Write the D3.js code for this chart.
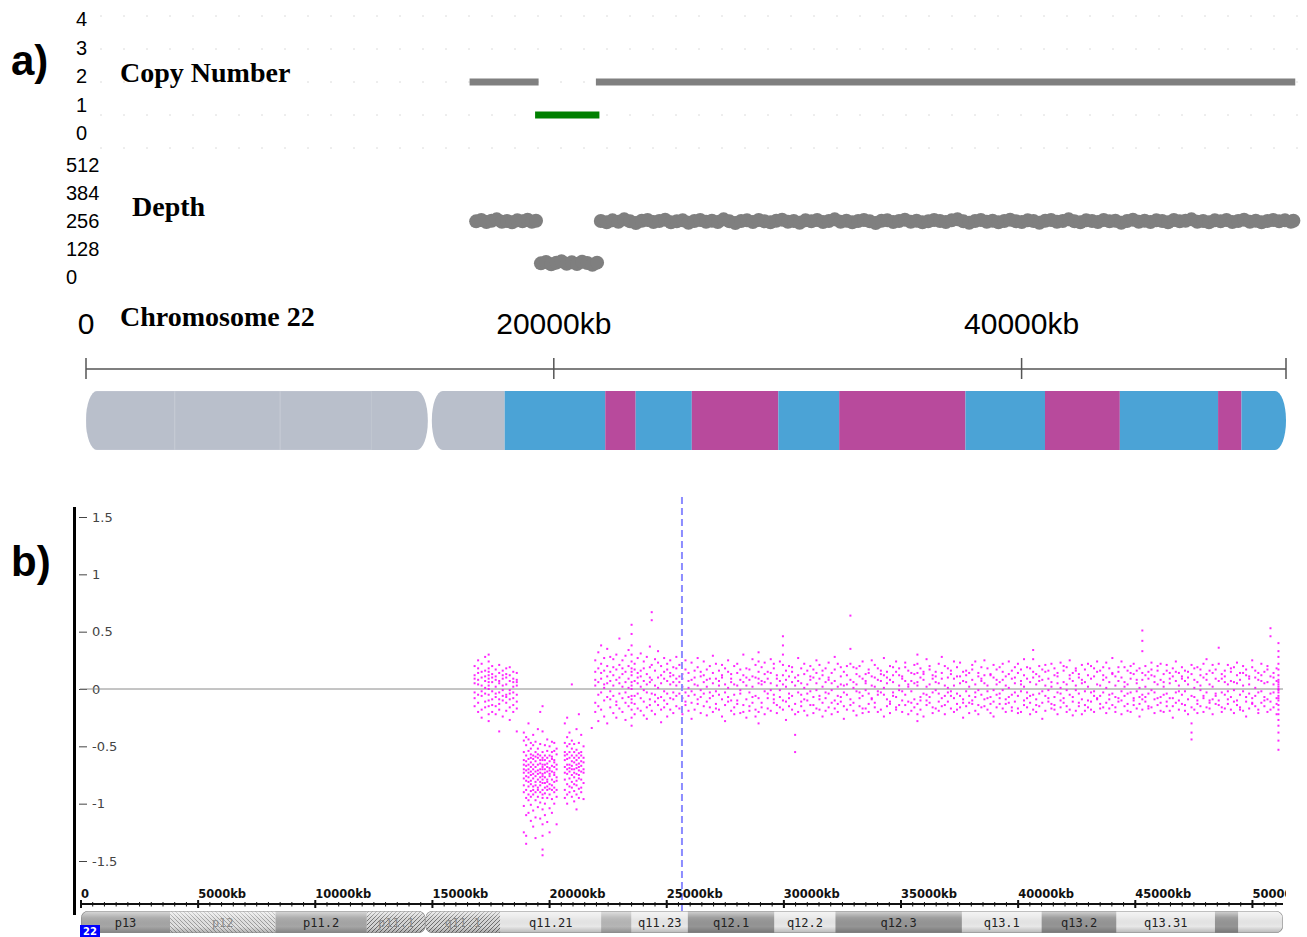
<!DOCTYPE html>
<html>
<head>
<meta charset="utf-8">
<script src="https://cdn.jsdelivr.net/npm/d3@7"></script>
<style>
  body { margin: 0; background: #fff; }
  svg { display: block; }
</style>
</head>
<body>
<script>
// ---- data ----
const chromLengthKb = 51304;
const copyNumberTicks = ["4", "3", "2", "1", "0"];
const copyNumberLevels = [0, 1, 2, 3, 4];
const depthTicks = ["512", "384", "256", "128", "0"];
const chromAxisTicks = [0, 20000, 40000];
const ratioTicks = [-1.5, -1, -0.5, 0, 0.5, 1, 1.5];
const cursorKb = 25650;

// copy number segments (kb)
const cnSegments = [
  { start: 16400, end: 19350, cn: 2 },
  { start: 19200, end: 21950, cn: 1 },
  { start: 21800, end: 51700, cn: 2 }
];

// read depth, [kb, depth]
const depthPoints = [
  [16680,249],[16900,253],[17120,247],[17340,251],[17560,255],[17780,248],[18000,250],[18220,246],[18440,252],[18660,249],[18880,254],[19060,248],[19240,251],
  [19450,124],[19670,128],[19890,121],[20110,126],[20330,130],[20550,123],[20770,127],[20990,122],[21210,129],[21430,125],[21650,120],[21850,126],
  [22010,250],[22260,246],[22510,252],[22760,248],[23010,255],[23260,249],[23510,244],[23760,251],[24010,253],[24260,247],
  [24510,250],[24760,254],[25010,246],[25260,249],[25510,252],[25760,245],[26010,250],[26260,253],[26510,248],[26760,251],
  [27010,247],[27260,255],[27510,249],[27760,244],[28010,250],[28260,252],[28510,247],[28760,253],[29010,249],[29260,246],
  [29510,251],[29760,254],[30010,248],[30260,250],[30510,245],[30760,252],[31010,249],[31260,253],[31510,247],[31760,250],
  [32010,255],[32260,248],[32510,251],[32760,246],[33010,250],[33260,253],[33510,249],[33760,244],[34010,251],[34260,252],
  [34510,247],[34760,250],[35010,254],[35260,248],[35510,251],[35760,246],[36010,249],[36260,253],[36510,250],[36760,247],
  [37010,252],[37260,255],[37510,249],[37760,245],[38010,250],[38260,253],[38510,248],[38760,251],[39010,246],[39260,250],
  [39510,254],[39760,249],[40010,247],[40260,252],[40510,250],[40760,245],[41010,251],[41260,253],[41510,248],[41760,250],
  [42010,255],[42260,249],[42510,246],[42760,252],[43010,250],[43260,247],[43510,253],[43760,249],[44010,251],[44260,245],
  [44510,250],[44760,254],[45010,248],[45260,251],[45510,247],[45760,252],[46010,250],[46260,246],[46510,253],[46760,249],
  [47010,251],[47260,255],[47510,248],[47760,250],[48010,246],[48260,252],[48510,249],[48760,253],[49010,247],[49260,250],
  [49510,254],[49760,248],[50010,251],[50260,246],[50510,250],[50760,253],[51010,249],[51260,252],[51510,248],[51620,251]
];

// cytobands of chromosome 22 (kb)
const bandNames  = ["p13","p12","p11.2","p11.1","q11.1","q11.21","q11.22","q11.23","q12.1","q12.2","q12.3","q13.1","q13.2","q13.31","q13.32","q13.33"];
const bandStarts = [0,3800,8300,12200,14700,17900,22200,23500,25900,29600,32200,37600,41000,44200,48400,49400];
const bandEnds   = [3800,8300,12200,14700,17900,22200,23500,25900,29600,32200,37600,41000,44200,48400,49400,51304];
const bandStains = ["gvar","stalk","gvar","acen","acen","gneg","gpos25","gneg","gpos50","gneg","gpos50","gneg","gpos50","gneg","gpos50","gneg"];
const centromereKb = 14700;

// log2 ratio: [kb, values x100 ...]
const ratioRows = [
  [16800,5,-8,12,-15,20,-3,9],[16950,-12,18,4,-20,8,-5,14,25],[17100,10,-6,-18,22,3,-25,15,-2],
  [17250,-4,16,-11,7,28,-16,1,11],[17400,30,24,18,12,6,0,-5,-10,-15,-22,-28,9,15,3],
  [17550,-9,13,-2,20,-14,6,-20,10],[17700,8,-15,17,-7,2,-22,11,-4],[17850,-13,5,21,-9,14,-3,-18,7,-37],
  [18000,3,-10,9,-24,16,-6,12,-1],[18150,-7,18,-12,4,-19,10,-5,13],[18300,12,-4,-16,7,-1,19,-9,-27],
  [18450,-3,9,-14,15,-8,2,-20,6],[18600,6,-11,3,-5,14,-17,8,-37],
  [18900,-45,-62,-78,-90,-55,-70,-102,-38,-84,-66,-125,-73],
  [19000,-58,-71,-49,-95,-80,-63,-110,-42,-76,-88,-67,-128,-135],
  [19100,-30,-66,-81,-54,-73,-97,-61,-85,-108,-70,-44,-92,-77],
  [19200,-68,-52,-89,-75,-60,-101,-83,-47,-115,-72,-64,-94,-57,-80],
  [19300,-74,-58,-92,-66,-85,-49,-78,-106,-61,-70,-88,-120,-40],
  [19400,-63,-81,-55,-97,-72,-68,-90,-46,-76,-112,-59,-84,-130],
  [19500,-71,-60,-86,-52,-94,-79,-66,-103,-57,-74,-88,-35],
  [19600,-20,-48,-65,-77,-90,-58,-84,-70,-99,-62,-113,-81,-73],
  [19700,-15,-37,-55,-62,-70,-76,-82,-88,-95,-68,-74,-79,-105,-118,-128,-60,-66,-92,-140,-145],
  [19800,-66,-82,-58,-91,-73,-49,-86,-100,-62,-77,-110,-70],
  [19900,-54,-79,-68,-95,-60,-85,-72,-44,-88,-116,-65,-81],
  [20000,-69,-58,-83,-76,-92,-50,-71,-104,-63,-87,-74,-125],
  [20100,-46,-72,-61,-88,-55,-79,-96,-67,-84,-108,-59],
  [20200,-62,-75,-54,-90,-68,-81,-47,-100,-73,-86,-64],
  [20300,-57,-80,-70,-66,-94,-52,-77,-88,-118],
  [20650,-30,-55,-68,-79,-47,-62,-88,-73,-95,-58],
  [20750,-25,-50,-66,-74,-83,-57,-92,-61,-70,-42,-100],
  [20850,-60,-72,-48,-85,-66,-55,-78,-90,-69,-38],
  [20950,4,-52,-67,-75,-58,-81,-63,-94,-70,-45,-86],
  [21050,-64,-77,-55,-89,-70,-60,-83,-48,-73,-98],
  [21150,-35,-58,-69,-62,-80,-74,-92,-53,-66,-84,-105],
  [21250,-22,-47,-60,-71,-65,-78,-56,-87,-68,-95,-75],
  [21350,-40,-58,-72,-63,-86,-55,-79,-67,-90],
  [21450,-50,-64,-73,-82,-60,-70,-96],
  [21800,-34],
  [21950,8,-12,25,3,-20,15],[22080,-5,18,32,-15,6,-28],[22200,14,-3,22,-18,9,38],[22330,-10,27,4,-24,16,1],
  [22460,20,-7,11,-30,35,5],[22590,-2,15,-16,28,7,-9],[22720,12,-21,3,19,-6,26],[22850,-14,8,30,-11,17,-25],
  [22980,5,-17,21,10,-4,44],[23110,25,-8,13,-20,2,18],[23240,-12,6,29,-3,15,-27],[23370,9,-15,20,-7,34,1],
  [23500,48,38,30,24,18,12,6,0,-6,-12,-18,-25,-32,15,3,-9,56],
  [23630,-6,22,-13,7,17,-22],[23760,14,-4,27,-17,5,10],[23890,-19,11,2,31,-8,16],[24020,7,-23,18,-1,24,-11],
  [24150,-3,13,-16,28,4,-26],[24280,19,-9,6,37,-14,10],[24360,67,60,-4,21,-19,8],[24500,-11,16,3,-22,26,-5],
  [24630,10,-14,23,1,-8,33],[24760,-7,20,-18,12,5,-29],[24890,15,-2,9,-16,27,-10],[25020,-13,7,22,-4,17,-24],
  [25150,4,-18,14,-8,25,11],[25280,-9,12,-21,6,19,-3],[25410,18,-6,9,-15,3,28],
  [25540,-4,11,-17,6,21],[25670,13,-8,2,-22,9],[25800,-11,17,-3,25,-14],[25930,7,-19,14,-6,1],
  [26060,-2,23,-12,8,-26],[26190,16,-5,10,-18,4],[26320,-9,3,19,-13,27],[26450,11,-21,-1,15,-7],
  [26580,-15,6,24,-4,12],[26710,2,-11,17,-23,8],[26840,20,-3,-16,9,-8],[26970,-6,14,5,-20,29],
  [27100,9,-13,22,-2,-17],[27230,-18,7,-5,16,3],[27360,12,-24,10,-9,21],[27490,-3,18,-14,4,-28],
  [27620,15,-7,1,25,-11],[27750,-10,9,-19,13,6],[27880,4,-16,20,-5,-22],[28010,-13,22,3,-10,14],
  [28140,8,-4,-21,17,-1],[28270,-20,12,6,-14,30],[28400,3,-9,18,-25,10],[28530,17,-15,-3,8,-19],
  [28660,-7,26,11,-12,2],[28790,10,-18,-6,21,-24],[28920,32,24,15,-8,-20,5,-30,9],[29050,-12,4,19,-16,7],
  [29180,6,-22,13,-2,23],[29310,-17,9,-8,15,-4],[29440,14,-1,-19,5,26],[29570,-5,18,-12,22,-9],
  [29700,9,-14,3,-21,12],[29830,-16,7,24,-7,-1],[29960,46,38,30,21,12,-10,-18,4],[30090,2,-11,16,-27,8],
  [30220,-8,20,-4,11,-15],[30350,15,-6,-18,6,19],[30480,-55,-40,-22,10,3,-13],[30610,7,-20,12,-3,27],
  [30740,-11,5,-15,18,-5],[30870,13,-9,22,-19,1],[31000,-4,16,-10,4,-23],[31130,20,-2,8,-14,11],
  [31260,-14,10,-21,17,-7],[31390,5,-17,14,-1,25],[31520,-9,21,-6,9,-18],[31650,12,-12,2,-24,16],
  [31780,-19,6,18,-8,-3],[31910,8,-4,-16,23,10],[32040,-1,14,-22,5,-12],[32170,17,-10,7,-17,28],
  [32300,-6,22,-13,2,-20],[32430,11,-7,19,-11,4],[32560,-15,3,-3,15,-26],[32690,4,-18,12,-5,20],
  [32840,64,35,-9,8,-14,22],[32970,-12,19,-19,6,1],[33100,18,-2,4,-23,13],[33230,-3,11,-15,20,-8],
  [33360,9,-21,24,-6,-17],[33490,-17,7,-1,13,5],[33620,14,-13,17,-20,-4],[33750,-8,25,-9,3,11],
  [33880,2,-16,10,-12,21],[34010,-20,8,-5,18,-2],[34140,16,-3,13,-18,7],[34270,-5,12,-24,1,27],
  [34400,10,-9,5,15,-15],[34530,-13,20,-11,8,-21],[34660,6,-6,19,-3,12],[34790,-18,15,-16,24,-7],
  [34920,12,-1,3,-14,18],[35050,-2,9,-20,11,-10],[35180,19,-14,7,-5,23],[35310,-11,4,16,-22,2],
  [35440,7,-19,-2,14,-12],[35570,-16,13,21,-9,5],[35700,30,22,14,-13,-22,-28,6,3],[35830,-7,18,-10,10,-18],
  [35960,13,-4,8,-24,15],[36090,-10,26,-14,2,-5],[36220,4,-12,17,-7,20],[36350,-21,9,-3,12,-16],
  [36480,15,-17,11,-1,6],[36610,-4,5,-19,22,-11],[36740,9,-8,14,-15,28],[36870,-14,20,-6,3,-22],
  [37000,18,-3,1,-11,10],[37130,-6,13,-17,16,-2],[37260,3,-20,9,-8,24],[37390,-18,11,-4,19,-13],
  [37520,11,-6,23,-16,5],[37650,-9,15,-12,7,-25],[37780,6,-15,16,-2,12],[37910,-12,2,-21,14,-6],
  [38040,21,-10,8,-13,17],[38170,-3,24,-7,4,-19],[38300,14,-14,11,-22,-1],[38430,-16,7,19,-5,9],
  [38560,5,-9,-15,12,25],[38690,-8,18,-2,-18,3],[38820,12,-21,13,-7,-13],[38950,-1,10,-11,21,-24],
  [39080,17,-5,4,-16,8],[39210,-13,19,-8,6,-4],[39340,8,-17,15,-1,22],[39470,-20,3,-13,11,-9],
  [39600,13,-7,24,-12,1],[39730,-5,16,-19,9,-16],[39860,10,-11,5,-3,19],[39990,-17,22,-6,14,-21],
  [40120,4,-2,17,-20,7],[40250,-10,12,-14,2,26],[40380,19,-16,9,-8,-3],[40510,-6,6,-22,18,-12],
  [40640,34,26,-18,10,-5,15],[40770,-14,13,-9,4,-20],[40900,7,-4,20,-15,11],[41030,-2,17,-12,8,-26],
  [41160,15,-19,3,-6,21],[41290,-11,9,-1,16,-8],[41420,6,-13,22,-17,2],[41550,-18,18,-7,12,-14],
  [41680,11,-3,14,-22,5],[41810,-4,23,-16,1,-10],[41940,20,-8,6,-12,16],[42070,-15,4,-20,19,-1],
  [42200,9,-18,12,-5,25],[42330,-7,14,-11,7,-23],[42460,16,-1,18,-19,3],[42590,-12,10,-4,13,-15],
  [42720,5,-22,21,-9,8],[42850,-19,6,-14,17,-2],[42980,12,-10,2,-16,22],[43110,-3,20,-18,9,-11],
  [43240,18,-6,11,-2,-20],[43370,-9,15,-8,24,4],[43500,3,-17,16,-13,-6],[43630,-16,8,-3,19,12],
  [43760,10,-12,23,-21,1],[43890,-5,18,-9,6,-17],[44020,14,-4,13,-14,27],[44150,-20,11,-16,3,-7],
  [44280,7,-8,19,-11,15],[44410,-10,24,-2,10,-22],[44540,19,-15,6,-6,2],[44670,-4,4,-19,16,-13],
  [44800,9,-20,14,-3,20],[44930,-14,13,-10,22,-8],[45060,16,-2,8,-17,5],[45180,-7,18,-13,1,-24],
  [45300,51,42,33,-9,14,-5,-18,8],[45430,2,-11,20,-7,12],[45560,-17,9,-4,15,-15],[45690,12,-16,17,-1,23],
  [45820,-3,6,-21,11,-9],[45950,20,-8,4,-14,16],[46080,-12,22,-7,8,-19],[46210,6,-5,13,-20,2],
  [46340,-15,16,-11,21,-4],[46470,9,-19,5,-8,14],[46600,-8,11,-15,18,-25],[46730,15,-3,24,-12,7],
  [46860,-2,14,-18,3,-10],[46990,11,-13,9,-5,19],[47120,-19,7,-2,16,-14],[47250,4,-22,15,-9,10],
  [47400,-44,-38,-30,13,-6,21,-16],[47520,8,-7,18,-18,1],[47650,-13,19,-10,6,-21],[47780,17,-1,3,-15,12],
  [47910,-6,10,-20,22,-8],[48040,13,-16,8,-3,26],[48170,-10,4,-12,16,-17],[48300,21,-9,14,-22,2],
  [48430,-4,17,-6,9,-13],[48560,7,-14,22,-10,36],[48690,-16,9,-3,13,-20],[48820,11,-5,16,-17,6],
  [48950,-2,21,-13,4,-9],[49080,18,-18,7,-7,15],[49210,-11,6,-21,19,-1],[49340,5,-10,12,-14,23],
  [49470,-18,14,-5,8,-16],[49600,14,-2,20,-19,3],[49730,-7,12,-11,17,-24],[49860,9,-17,4,-4,11],
  [49990,-13,19,-8,25,-12],[50120,16,-6,10,-15,1],[50250,-3,8,-18,14,-21],[50380,12,-12,22,-2,7],
  [50510,-15,15,-7,5,-10],[50640,6,-20,17,-9,20],[50770,53,46,-11,11,-4,-18],[50900,10,-3,14,-16,4],
  [51030,-8,18,-13,7,-22],
  [51110,40,33,28,22,17,12,8,4,0,-3,-6,-10,-14,-18,-22,-27,-32,-38,-45,-53,2,-1,6,-8]
];

// ---- svg ----
const W = 1307, H = 937;
const svg = d3.select('body').append('svg')
  .attr('width', W)
  .attr('height', H)
  .style('background', '#fff');

const defs = svg.append('defs');

// ================= panel a =================
const xA = d3.scaleLinear().domain([0, chromLengthKb]).range([86, 1286]);
const cnY = d3.scaleLinear().domain([0, 4]).range([148, 16]);
const depthY = d3.scaleLinear().domain([0, 512]).range([305, 133]);
const cnLabelY = d3.scalePoint().domain(copyNumberTicks).range([26, 140]);
const depthLabelY = d3.scalePoint().domain(depthTicks).range([172, 284]);

svg.append('text')
  .attr('x', 11).attr('y', 75)
  .style('font', 'bold 42px "Liberation Sans", Arial, sans-serif')
  .text('a)');

// faint dotted guide lines
svg.append('g').selectAll('line')
  .data(copyNumberLevels)
  .enter().append('line')
  .attr('x1', 100).attr('x2', 1300)
  .attr('y1', d => cnY(d)).attr('y2', d => cnY(d))
  .attr('stroke', '#dcdcdc')
  .attr('stroke-width', 1)
  .attr('stroke-dasharray', '2,21');

svg.append('g').selectAll('text')
  .data(copyNumberTicks)
  .enter().append('text')
  .attr('x', 76).attr('y', d => cnLabelY(d))
  .style('font', '20px "Liberation Sans", Arial, sans-serif')
  .text(d => d);

svg.append('g').selectAll('text')
  .data(depthTicks)
  .enter().append('text')
  .attr('x', 66).attr('y', d => depthLabelY(d))
  .style('font', '20px "Liberation Sans", Arial, sans-serif')
  .text(d => d);

const serifBold = 'bold 28px "Liberation Serif", "Times New Roman", serif';
svg.append('text').attr('x', 120).attr('y', 82).style('font', serifBold).text('Copy Number');
svg.append('text').attr('x', 132).attr('y', 216).style('font', serifBold).text('Depth');
svg.append('text').attr('x', 120).attr('y', 326).style('font', serifBold).text('Chromosome 22');

// copy number segments
svg.append('g').selectAll('line')
  .data(cnSegments)
  .enter().append('line')
  .attr('x1', d => xA(d.start)).attr('x2', d => xA(d.end))
  .attr('y1', d => cnY(d.cn)).attr('y2', d => cnY(d.cn))
  .attr('stroke', d => d.cn === 1 ? '#008000' : '#808080')
  .attr('stroke-width', 7);

// depth points
svg.append('g').selectAll('circle')
  .data(depthPoints)
  .enter().append('circle')
  .attr('cx', d => xA(d[0]))
  .attr('cy', d => depthY(d[1]))
  .attr('r', 7)
  .attr('fill', '#7f7f7f');

// chromosome axis
const axisA = svg.append('g');
axisA.append('line')
  .attr('x1', xA(0)).attr('x2', xA(chromLengthKb))
  .attr('y1', 369).attr('y2', 369)
  .attr('stroke', '#555').attr('stroke-width', 1.5);
axisA.selectAll('line.tk')
  .data(chromAxisTicks.concat([chromLengthKb]))
  .enter().append('line')
  .attr('class', 'tk')
  .attr('x1', d => xA(d)).attr('x2', d => xA(d))
  .attr('y1', 358).attr('y2', 379)
  .attr('stroke', '#555').attr('stroke-width', 1.5);
axisA.selectAll('text')
  .data(chromAxisTicks)
  .enter().append('text')
  .attr('x', d => xA(d))
  .attr('y', 334)
  .attr('text-anchor', 'middle')
  .style('font', '30px "Liberation Sans", Arial, sans-serif')
  .text(d => d === 0 ? '0' : d + 'kb');

// ideogram a
const bands = bandNames.map((name, i) => ({
  name, start: bandStarts[i], end: bandEnds[i], stain: bandStains[i]
}));
const colorA = s => s === 'gneg' ? '#4ba3d6' : (s.startsWith('gpos') ? '#b84a9c' : '#b9bfcb');
const ideoA = { y: 391, h: 59 };

function armClip(id, x0, x1, y, h, rx, ry) {
  defs.append('clipPath').attr('id', id)
    .append('rect')
    .attr('x', x0).attr('y', y)
    .attr('width', x1 - x0).attr('height', h)
    .attr('rx', rx).attr('ry', ry);
}
armClip('armAp', xA(0), xA(centromereKb) - 2, ideoA.y, ideoA.h, 11, 29);
armClip('armAq', xA(centromereKb) + 2, xA(chromLengthKb), ideoA.y, ideoA.h, 11, 29);

['armAp', 'armAq'].forEach((id, k) => {
  const arm = bands.filter(b => k === 0 ? b.end <= centromereKb : b.start >= centromereKb);
  svg.append('g').attr('clip-path', `url(#${id})`)
    .selectAll('rect')
    .data(arm)
    .enter().append('rect')
    .attr('x', d => xA(d.start))
    .attr('width', d => xA(d.end) - xA(d.start))
    .attr('y', ideoA.y).attr('height', ideoA.h)
    .attr('fill', d => colorA(d.stain))
    .attr('stroke', d => d.stain === 'gvar' || d.stain === 'stalk' ? '#c6cbd5' : 'none')
    .attr('stroke-width', 0.8);
});

// ================= panel b =================
const xB = d3.scaleLinear().domain([0, chromLengthKb]).range([81, 1283]);
const yB = d3.scaleLinear().domain([-1.5, 1.5]).range([861, 517]);

svg.append('text')
  .attr('x', 11).attr('y', 576)
  .style('font', 'bold 42px "Liberation Sans", Arial, sans-serif')
  .text('b)');

// y axis
svg.append('line')
  .attr('x1', 74.5).attr('x2', 74.5)
  .attr('y1', 507).attr('y2', 915)
  .attr('stroke', '#000').attr('stroke-width', 3);

const yAxis = svg.append('g')
  .attr('transform', 'translate(79,0)')
  .call(d3.axisRight(yB).tickValues(ratioTicks).tickSize(8).tickPadding(5).tickFormat(d => String(d)));
yAxis.select('.domain').remove();
yAxis.selectAll('.tick line').attr('stroke', '#444');
yAxis.selectAll('.tick text')
  .style('font', '13px "DejaVu Sans", Verdana, sans-serif')
  .attr('fill', '#444');

// zero line
svg.append('line')
  .attr('x1', 80).attr('x2', xB(chromLengthKb))
  .attr('y1', yB(0)).attr('y2', yB(0))
  .attr('stroke', '#8a8a8a').attr('stroke-width', 1);

// scatter
const ratioPoints = ratioRows.flatMap(r => r.slice(1).map(v => ({ kb: r[0], ratio: v / 100 })));
svg.append('g').selectAll('rect')
  .data(ratioPoints)
  .enter().append('rect')
  .attr('x', d => xB(d.kb) - 1)
  .attr('y', d => yB(d.ratio) - 1)
  .attr('width', 2).attr('height', 2)
  .attr('fill', '#ff00ff')
  .attr('opacity', 0.85);

// cursor line
svg.append('line')
  .attr('x1', xB(cursorKb)).attr('x2', xB(cursorKb))
  .attr('y1', 497).attr('y2', 937)
  .attr('stroke', '#8c8cff').attr('stroke-width', 2)
  .attr('stroke-dasharray', '7,4');

// x axis
defs.append('clipPath').attr('id', 'xclip')
  .append('rect').attr('x', 0).attr('y', 870).attr('width', 1286).attr('height', 40);

const majorTicks = d3.range(0, chromLengthKb, 5000);
const minorTicks = d3.range(0, chromLengthKb, 500);
const xAxisG = svg.append('g').attr('clip-path', 'url(#xclip)');
xAxisG.append('line')
  .attr('x1', xB(0)).attr('x2', xB(chromLengthKb))
  .attr('y1', 904).attr('y2', 904)
  .attr('stroke', '#111').attr('stroke-width', 2);
xAxisG.selectAll('line.minor')
  .data(minorTicks)
  .enter().append('line')
  .attr('class', 'minor')
  .attr('x1', d => xB(d)).attr('x2', d => xB(d))
  .attr('y1', 902).attr('y2', 906.5)
  .attr('stroke', '#111').attr('stroke-width', 1);
xAxisG.selectAll('line.major')
  .data(majorTicks)
  .enter().append('line')
  .attr('class', 'major')
  .attr('x1', d => xB(d)).attr('x2', d => xB(d))
  .attr('y1', 900).attr('y2', 908)
  .attr('stroke', '#111').attr('stroke-width', 2);
xAxisG.selectAll('text')
  .data(majorTicks)
  .enter().append('text')
  .attr('x', d => xB(d))
  .attr('y', 898)
  .style('font', 'bold 11.5px "DejaVu Sans", Verdana, sans-serif')
  .attr('fill', '#111')
  .text(d => d === 0 ? '0' : d + 'kb');

// ideogram b
const ideoB = { y: 911, h: 22 };
const hatch = (id, bg, fg, dir) => {
  const p = defs.append('pattern').attr('id', id)
    .attr('patternUnits', 'userSpaceOnUse')
    .attr('width', 4).attr('height', 4);
  p.append('rect').attr('width', 4).attr('height', 4).attr('fill', bg);
  p.append('path')
    .attr('d', dir > 0 ? 'M0,0L4,4M-1,3L1,5M3,-1L5,1' : 'M0,4L4,0M-1,1L1,-1M3,5L5,3')
    .attr('stroke', fg).attr('stroke-width', 1);
};
hatch('hatchStalk', '#e2e2e2', '#9e9e9e', 1);
hatch('hatchAcen', '#d6d6d6', '#6e6e6e', -1);

const colorB = {
  gvar: '#a6a6a6', stalk: 'url(#hatchStalk)', acen: 'url(#hatchAcen)',
  gneg: '#e8e8e8', gpos25: '#b6b6b6', gpos50: '#959595'
};

const grad = defs.append('linearGradient').attr('id', 'cyl')
  .attr('x1', 0).attr('y1', 0).attr('x2', 0).attr('y2', 1);
grad.append('stop').attr('offset', '0%').attr('stop-color', '#fff').attr('stop-opacity', 0.6);
grad.append('stop').attr('offset', '30%').attr('stop-color', '#fff').attr('stop-opacity', 0.1);
grad.append('stop').attr('offset', '70%').attr('stop-color', '#000').attr('stop-opacity', 0);
grad.append('stop').attr('offset', '100%').attr('stop-color', '#000').attr('stop-opacity', 0.22);

armClip('armBp', xB(0), xB(centromereKb), ideoB.y, ideoB.h, 7, 7);
armClip('armBq', xB(centromereKb), xB(chromLengthKb), ideoB.y, ideoB.h, 7, 7);

['armBp', 'armBq'].forEach((id, k) => {
  const arm = bands.filter(b => k === 0 ? b.end <= centromereKb : b.start >= centromereKb);
  const g = svg.append('g').attr('clip-path', `url(#${id})`);
  g.selectAll('rect.band')
    .data(arm)
    .enter().append('rect')
    .attr('class', 'band')
    .attr('x', d => xB(d.start))
    .attr('width', d => xB(d.end) - xB(d.start))
    .attr('y', ideoB.y).attr('height', ideoB.h)
    .attr('fill', d => colorB[d.stain]);
  g.append('rect')
    .attr('x', k === 0 ? xB(0) : xB(centromereKb))
    .attr('width', k === 0 ? xB(centromereKb) - xB(0) : xB(chromLengthKb) - xB(centromereKb))
    .attr('y', ideoB.y).attr('height', ideoB.h)
    .attr('fill', 'url(#cyl)');
  g.append('rect')
    .attr('x', k === 0 ? xB(0) : xB(centromereKb))
    .attr('width', k === 0 ? xB(centromereKb) - xB(0) : xB(chromLengthKb) - xB(centromereKb))
    .attr('y', ideoB.y).attr('height', ideoB.h)
    .attr('rx', 7)
    .attr('fill', 'none').attr('stroke', '#8a8a8a').attr('stroke-width', 1.2);
});

svg.append('g').selectAll('text')
  .data(bands.filter(b => xB(b.end) - xB(b.start) > 50))
  .enter().append('text')
  .attr('x', d => (xB(d.start) + xB(d.end)) / 2)
  .attr('y', 927)
  .attr('text-anchor', 'middle')
  .style('font', '12px "DejaVu Sans Mono", monospace')
  .attr('fill', d => d.stain === 'stalk' || d.stain === 'acen' ? '#8a8a8a' : '#222')
  .text(d => d.name);

// chromosome tag
svg.append('rect')
  .attr('x', 80).attr('y', 925)
  .attr('width', 20).attr('height', 12)
  .attr('fill', '#0000ff');
svg.append('text')
  .attr('x', 90).attr('y', 935)
  .attr('text-anchor', 'middle')
  .style('font', 'bold 10px "DejaVu Sans", Verdana, sans-serif')
  .attr('fill', '#fff')
  .text('22');
</script>
</body>
</html>
